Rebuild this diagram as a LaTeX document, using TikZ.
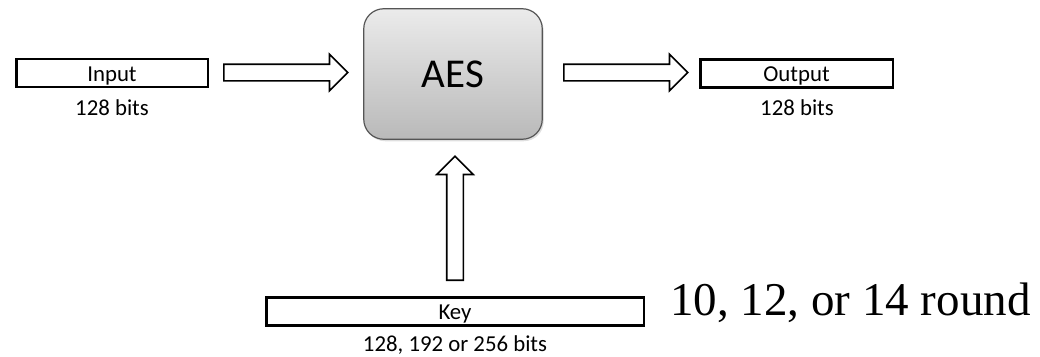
\documentclass[tikz,border=0pt]{standalone}
\usepackage{fontspec}
\setmainfont{Liberation Serif}
\newfontfamily\carl{Carlito}
\usetikzlibrary{shapes.arrows,shadows}
\definecolor{aestop}{HTML}{EBEBEB}
\definecolor{aesbot}{HTML}{B9B9B9}
\definecolor{aesline}{HTML}{555555}
\tikzset{
  databox/.style={draw=black, line width=2.5pt, rectangle, inner sep=0pt,
    minimum height=28pt, text height=16pt, text depth=0pt,
    font=\carl\fontsize{22.8}{26}\selectfont},
  lbl/.style={inner sep=0pt, font=\carl\fontsize{22.8}{26}\selectfont},
  blockarrow/.style={single arrow, draw=black, fill=white, line width=1.6pt,
    single arrow head extend=10pt,
    single arrow tip angle=90, minimum height=124pt, anchor=tail},
  harrow/.style={blockarrow, inner xsep=0pt, inner ysep=7.5pt},
  varrow/.style={blockarrow, shape border rotate=90, inner xsep=7.5pt, inner ysep=0pt},
  aesbox/.style={draw=aesline, line width=1.2pt, rounded corners=20pt,
    top color=aestop, bottom color=aesbot, minimum width=178.5pt,
    minimum height=130.5pt, inner sep=0pt,
    drop shadow={shadow xshift=1.5pt, shadow yshift=-2pt, opacity=0.25},
    font=\carl\fontsize{41}{48}\selectfont}
}
\begin{document}
\begin{tikzpicture}[x=1pt,y=-1pt]
\useasboundingbox (0,0) rectangle (1040,356);
\node[aesbox] (aes) at (453,74) {AES};
\node[databox, minimum width=191.5pt] (in) at (112,73) {Input};
\node[lbl] (inbits) at (112,108) {128 bits};
\node[databox, minimum width=192.5pt] (out) at (796.5,73.5) {Output};
\node[lbl] (outbits) at (797,108) {128 bits};
\node[databox, minimum width=377.5pt] (key) at (455,311.5) {Key};
\node[lbl] (keybits) at (455,345) {128, 192 or 256 bits};
\node[harrow] (a1) at (223,72.5) {};
\node[harrow] (a2) at (563,72.5) {};
\node[varrow] (a3) at (455,281) {};
\node[inner sep=0pt, anchor=base west, font=\fontsize{47}{53}\selectfont] (rounds) at (670,315) {10, 12, or 14 round};
\end{tikzpicture}
\end{document}
